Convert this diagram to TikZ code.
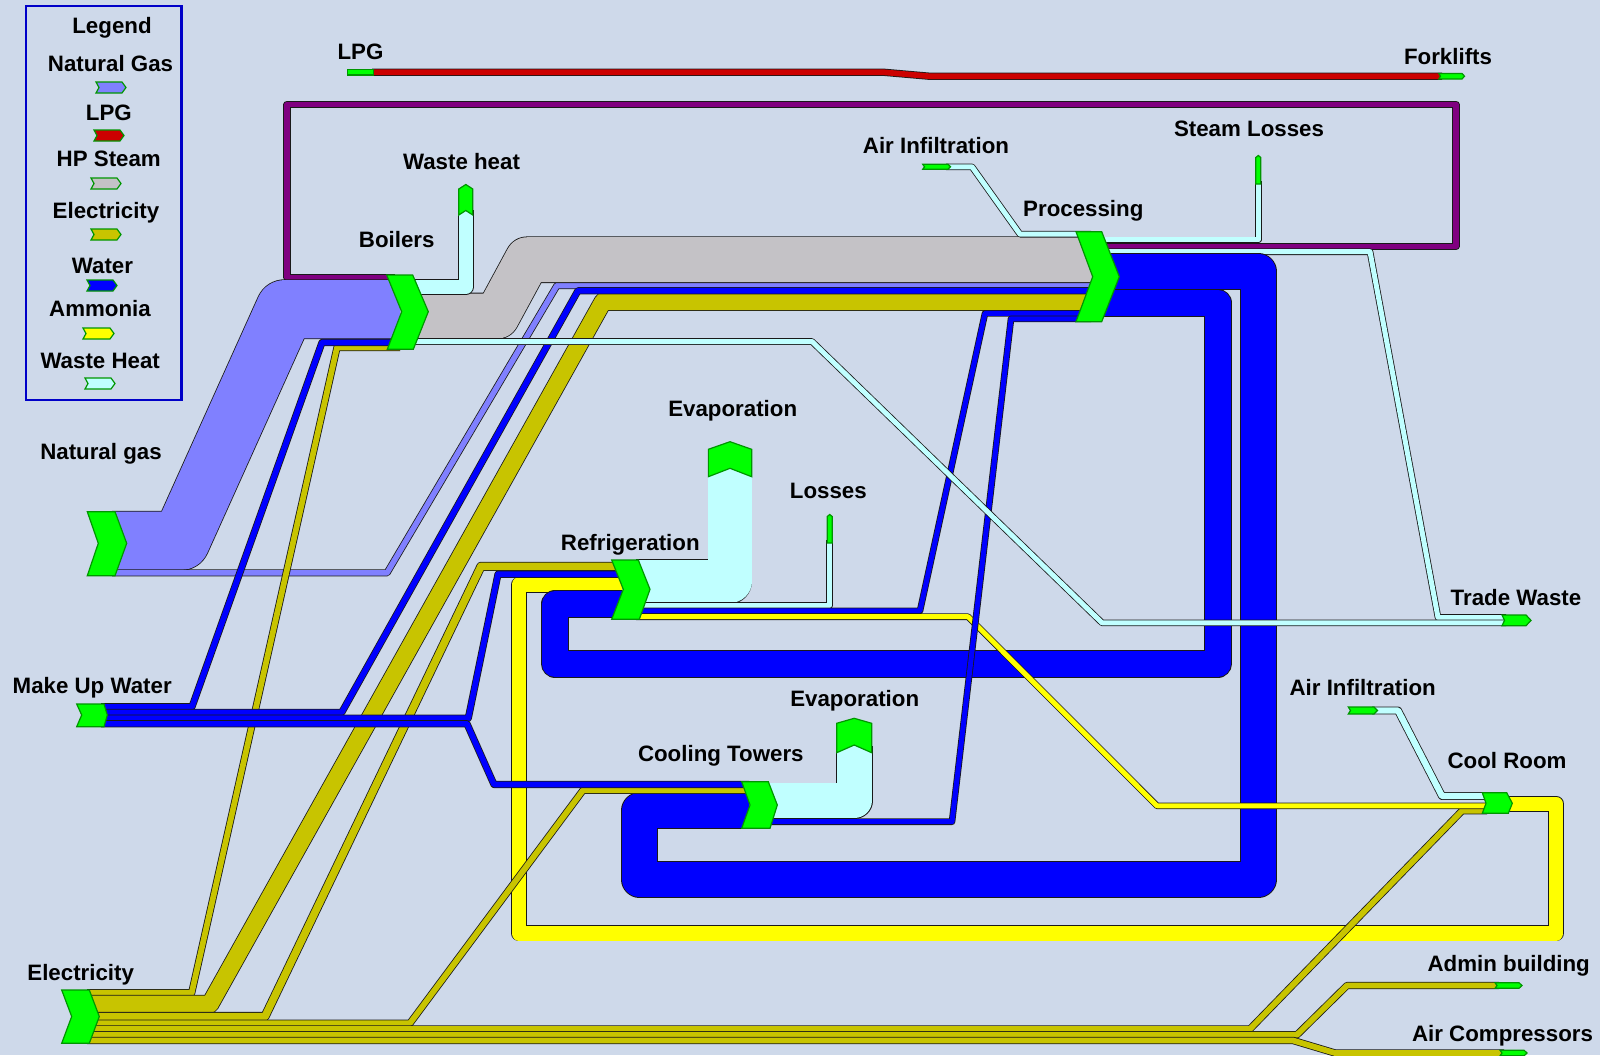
\documentclass[tikz,border=0pt]{standalone}
\usepackage{fontspec}
\setmainfont{Liberation Sans}
\definecolor{bgc}{RGB}{206,217,234}
\definecolor{ngc}{RGB}{128,128,255}
\definecolor{lpgc}{RGB}{204,0,0}
\definecolor{steamc}{RGB}{196,194,198}
\definecolor{elecc}{RGB}{200,196,0}
\definecolor{waterc}{RGB}{0,0,255}
\definecolor{ammc}{RGB}{255,255,0}
\definecolor{wastec}{RGB}{192,255,255}
\definecolor{purc}{RGB}{128,0,128}
\definecolor{nodeg}{RGB}{0,255,0}
\definecolor{nodeedge}{RGB}{0,150,0}
\definecolor{edgec}{RGB}{25,25,25}
\definecolor{legblue}{RGB}{0,0,200}
\tikzset{
  band/.style={line join=round, line cap=butt},
  bandedge/.style={draw=edgec, line join=round, line cap=butt},
  procnode/.style={fill=nodeg, draw=nodeedge, line width=1.2pt, line join=miter},
  swatch/.style={draw=nodeedge, line width=1.2pt, line join=miter},
  lbl/.style={font=\fontsize{22.3}{26}\selectfont\bfseries, text=black, inner sep=0pt, anchor=base},
  legendbox/.style={draw=legblue, line width=2.5pt}
}
\newcommand\flw[3]{%
  \draw[bandedge, line width=#2pt+1.6pt] #3;
  \draw[band, draw=#1, line width=#2pt] #3;}
\begin{document}
\begin{tikzpicture}[x=1pt,y=-1pt]
\useasboundingbox (0,0) rectangle (1600,1055);
\fill[bgc] (0,0) rectangle (1600,1055);

% ---------- flows ----------
% LPG
\flw{lpgc}{5.7}{(372,72.2) -- (883,72.2) -- (929,76.2) -- (1442,76.2)}
% condensate (purple)
\flw{purc}{5.6}{(1099,246.3) -- (1456,246.3) -- (1456,104.5) -- (287,104.5) -- (287,277.5) -- (395,277.5)}
% natural gas
\flw{ngc}{58.3}{(112,540.8) -- (180.7,540.8) -- (285,309.2) -- (400,309.2)}
\flw{ngc}{5.5}{(112,572.9) -- (387,572.9) -- (557,285.5) -- (1091,285.5)}
% HP steam
\flw{steamc}{45}{(410,316) -- (497,316) -- (527.5,259.7) -- (1091,259.7)}
% boiler waste heat
\flw{wastec}{14}{(410,287) -- (465.8,287) -- (465.8,210)}
% air infiltration (processing)
\flw{wastec}{5}{(946,166.8) -- (972,166.8) -- (1020,234.2) -- (1091,234.2)}
% steam losses
\flw{wastec}{5}{(1099,239.8) -- (1258.3,239.8) -- (1258.3,181)}
% processing to trade waste
\flw{wastec}{5}{(1099,251.7) -- (1370,251.7) -- (1438,617.5) -- (1506,617.5)}
% ammonia loop
\flw{ammc}{14.4}{(1504,803.7) -- (1556,803.7) -- (1556,933.3) -- (519,933.3) -- (519,584.5) -- (622,584.5)}
% water loops
\flw{waterc}{35.3}{(1099,271.7) -- (1258.3,271.7) -- (1258.3,879.2) -- (639.5,879.2) -- (639.5,810.8) -- (749,810.8)}
\flw{waterc}{26}{(1099,302.7) -- (1217.8,302.7) -- (1217.8,663.7) -- (555,663.7) -- (555,604.2) -- (622,604.2)}
% electricity
\flw{elecc}{5.7}{(87,992.8) -- (191.7,992.8) -- (337,347.5) -- (400,347.5)}
\flw{elecc}{17}{(87,1004.2) -- (210,1004.2) -- (603,301.6) -- (1091,301.6)}
\flw{elecc}{7.5}{(87,1016.5) -- (265,1016.5) -- (481,566.3) -- (622,566.3)}
\flw{elecc}{5.75}{(87,1023.2) -- (410,1023.2) -- (583,790.3) -- (749,790.3)}
\flw{elecc}{5.75}{(87,1029) -- (1250,1029) -- (1462,810.8) -- (1487,810.8)}
\flw{elecc}{5.75}{(87,1034.75) -- (1297,1034.75) -- (1347,985.5) -- (1499,985.5)}
\flw{elecc}{5.75}{(87,1040.45) -- (1293,1040.45) -- (1335,1053) -- (1504,1053)}
% make up water
\flw{waterc}{5.6}{(101,706.8) -- (192,706.8) -- (322,342.5) -- (400,342.5)}
\flw{waterc}{5.6}{(101,712.5) -- (341.7,712.5) -- (578,290.7) -- (1091,290.7)}
\flw{waterc}{5.6}{(101,718.2) -- (468.3,718.2) -- (498,574.2) -- (622,574.2)}
\flw{waterc}{5.6}{(101,723.8) -- (467,723.8) -- (494,784.5) -- (749,784.5)}
% refrigeration outputs
\flw{wastec}{43.3}{(636,581.3) -- (730,581.3) -- (730,469)}
\flw{wastec}{5}{(636,605.2) -- (829.7,605.2) -- (829.7,540)}
\flw{waterc}{5}{(636,610.8) -- (920,610.8) -- (985,313.3) -- (1091,313.3)}
\flw{ammc}{5}{(636,616.7) -- (968,616.7) -- (1157,805.8) -- (1487,805.8)}
% cooling tower outputs
\flw{wastec}{35}{(766,800.8) -- (854.2,800.8) -- (854.2,746)}
\flw{waterc}{5}{(766,821.7) -- (952,821.7) -- (1011,318.8) -- (1091,318.8)}
% boiler thin waste heat to trade waste
\flw{wastec}{5}{(410,341.5) -- (812,341.5) -- (1102,622.8) -- (1506,622.8)}
% air infiltration (cool room)
\flw{wastec}{6.3}{(1372,710.5) -- (1398,710.5) -- (1442,796) -- (1487,796)}

% ---------- process chevrons ----------
\draw[procnode] (386.7,275) -- (412.7,275) -- (428.3,311.7) -- (413.3,349.3) -- (387.3,349.3) -- (401.7,311.7) -- cycle;
\draw[procnode] (1076,231.7) -- (1101.7,231.7) -- (1119.3,276.7) -- (1101.7,321.7) -- (1076,321.7) -- (1092.7,276.7) -- cycle;
\draw[procnode] (611.7,560) -- (638.3,560) -- (650,589.3) -- (639.3,619.3) -- (611.7,619.3) -- (623.3,589.3) -- cycle;
\draw[procnode] (741.7,781.7) -- (768.3,781.7) -- (777.3,805) -- (770,828.3) -- (741.7,828.3) -- (750,805) -- cycle;
\draw[procnode] (1482.3,792.7) -- (1506.7,792.7) -- (1512.3,803.3) -- (1508.3,813.3) -- (1482.3,813.3) -- (1486,803.3) -- cycle;
\draw[procnode] (87.3,511.7) -- (115,511.7) -- (126.7,543.3) -- (115,575.7) -- (87.3,575.7) -- (98.3,543.3) -- cycle;
\draw[procnode] (76.7,704) -- (104,704) -- (107.3,715) -- (104,726.7) -- (76.7,726.7) -- (81.7,715) -- cycle;
\draw[procnode] (61.7,990) -- (89.3,990) -- (99.3,1016.5) -- (89.3,1043.3) -- (61.7,1043.3) -- (71.7,1016.5) -- cycle;

% ---------- end caps and stubs ----------
\draw[procnode] (458.8,189) -- (465.8,184.5) -- (472.8,189) -- (472.8,215) -- (465.8,210.5) -- (458.8,215) -- cycle;
\draw[procnode] (708.35,449.3) -- (730,441.7) -- (751.65,449.3) -- (751.65,476.7) -- (730,468.3) -- (708.35,476.7) -- cycle;
\draw[procnode] (836.7,723.3) -- (854.2,718.3) -- (871.7,723.3) -- (871.7,752.7) -- (854.2,745) -- (836.7,752.7) -- cycle;
\draw[procnode] (827.2,543) -- (827.2,516.5) -- (829.7,514.5) -- (832.2,516.5) -- (832.2,543) -- cycle;
\draw[procnode] (1255.8,184) -- (1255.8,157.5) -- (1258.3,155.5) -- (1260.8,157.5) -- (1260.8,184) -- cycle;
\draw[procnode] (1502,615) -- (1526,615) -- (1531,620.4) -- (1526,625.7) -- (1502,625.7) -- (1504.5,620.4) -- cycle;
\draw[procnode] (1348.3,707) -- (1374,707) -- (1377.5,710.5) -- (1374,714) -- (1348.3,714) -- (1350.5,710.5) -- cycle;
\draw[procnode] (922.7,164.3) -- (948,164.3) -- (950.5,166.8) -- (948,169.3) -- (922.7,169.3) -- (924.5,166.8) -- cycle;
\draw[procnode] (1495,982.7) -- (1519,982.7) -- (1522,985.5) -- (1519,988.3) -- (1495,988.3) -- (1497,985.5) -- cycle;
\draw[procnode] (1500,1050.2) -- (1524,1050.2) -- (1527,1053) -- (1524,1055.8) -- (1500,1055.8) -- (1502,1053) -- cycle;
\draw[procnode] (1438.8,73.4) -- (1462,73.4) -- (1464.5,76.2) -- (1462,79) -- (1438.8,79) -- (1440.5,76.2) -- cycle;
\draw[procnode] (347.7,69.4) -- (373.3,69.4) -- (373.3,75) -- (347.7,75) -- cycle;

% ---------- legend ----------
\draw[legendbox] (26,6) rectangle (181.5,400);
\node[lbl] (lgTitle) at (112,33.3) {Legend};
\node[lbl] (lgNG) at (110.5,71.7) {Natural Gas};
\draw[swatch, fill=ngc] (96,82) -- (122,82) -- (126,87.5) -- (122,93) -- (96,93) -- (99,87.5) -- cycle;
\node[lbl] (lgLPG) at (108.8,120) {LPG};
\draw[swatch, fill=lpgc] (94,130) -- (120,130) -- (124,135.5) -- (120,141) -- (94,141) -- (97,135.5) -- cycle;
\node[lbl] (lgHP) at (108.8,166.7) {HP Steam};
\draw[swatch, fill=steamc] (91,178) -- (117,178) -- (121,183.5) -- (117,189) -- (91,189) -- (94,183.5) -- cycle;
\node[lbl] (lgEl) at (106,218.3) {Electricity};
\draw[swatch, fill=elecc] (91,229) -- (117,229) -- (121,234.5) -- (117,240) -- (91,240) -- (94,234.5) -- cycle;
\node[lbl] (lgW) at (102.5,273.3) {Water};
\draw[swatch, fill=waterc] (87,280) -- (113,280) -- (117,285.5) -- (113,291) -- (87,291) -- (90,285.5) -- cycle;
\node[lbl] (lgAm) at (100,316.7) {Ammonia};
\draw[swatch, fill=ammc] (83,328) -- (110,328) -- (114,333.5) -- (110,339) -- (83,339) -- (86,333.5) -- cycle;
\node[lbl] (lgWH) at (100.2,368.3) {Waste Heat};
\draw[swatch, fill=wastec] (85,378) -- (111,378) -- (115,383.5) -- (111,389) -- (85,389) -- (88,383.5) -- cycle;

% ---------- labels ----------
\node[lbl] (tNG) at (101,459) {Natural gas};
\node[lbl] (tMUW) at (92.2,693.3) {Make Up Water};
\node[lbl] (tEl) at (80.7,980) {Electricity};
\node[lbl] (tLPG) at (360.5,59.3) {LPG};
\node[lbl] (tFork) at (1448,64.3) {Forklifts};
\node[lbl] (tWH) at (461.5,169.5) {Waste heat};
\node[lbl] (tBoil) at (396.7,247.7) {Boilers};
\node[lbl] (tAI1) at (936,153.3) {Air Infiltration};
\node[lbl] (tSL) at (1249,136.7) {Steam Losses};
\node[lbl] (tProc) at (1083.3,216) {Processing};
\node[lbl] (tEv1) at (732.7,416.5) {Evaporation};
\node[lbl] (tLoss) at (828.3,498.3) {Losses};
\node[lbl] (tRef) at (630.3,550) {Refrigeration};
\node[lbl] (tEv2) at (854.7,706.7) {Evaporation};
\node[lbl] (tCT) at (720.8,761.7) {Cooling Towers};
\node[lbl] (tTW) at (1516,605) {Trade Waste};
\node[lbl] (tAI2) at (1362.7,695) {Air Infiltration};
\node[lbl] (tCR) at (1507,768.3) {Cool Room};
\node[lbl] (tAdm) at (1508.7,971.7) {Admin building};
\node[lbl] (tAC) at (1502.5,1041.7) {Air Compressors};
\end{tikzpicture}
\end{document}
